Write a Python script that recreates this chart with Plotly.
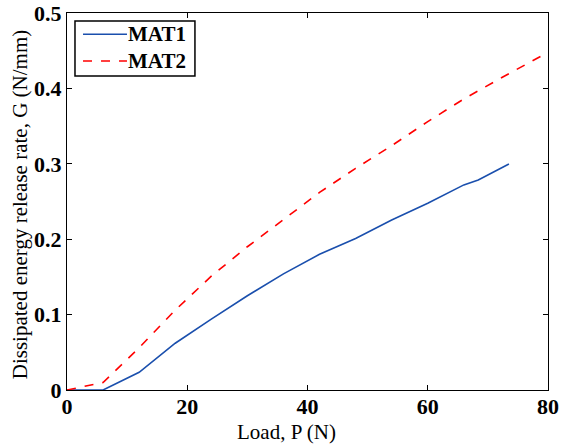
import plotly.graph_objects as go

load_mat1 = [0, 6, 12, 18, 24, 30, 36, 42, 48, 54, 60, 66, 68.4, 73.5]
g_mat1 = [0, 0, 0.0235, 0.062, 0.094, 0.125, 0.154, 0.180, 0.201, 0.2255, 0.2476, 0.272, 0.2785, 0.2997]

load_mat2 = [0, 6, 12, 18, 24, 30, 36, 42, 48, 54, 60, 66, 72, 79.5]
g_mat2 = [0, 0.01, 0.056, 0.106, 0.151, 0.190, 0.226, 0.262, 0.294, 0.324, 0.356, 0.386, 0.413, 0.4456]

series_names = ["MAT1", "MAT2"]
series_colors = ["#1a4fad", "#ff0000"]
series_dash = ["solid", "dash"]

x_ticks = [0, 20, 40, 60, 80]
y_ticks = [0, 0.1, 0.2, 0.3, 0.4, 0.5]
y_tick_labels = ["0", "0.1", "0.2", "0.3", "0.4", "0.5"]

x_title = "Load, P (N)"
y_title = "Dissipated energy release rate, G (N/mm)"

font = "Liberation Serif"
tickfont = dict(family=font, size=22, color="black", weight="bold")

fig = go.Figure()
for xs, ys, name, col, dash in zip([load_mat1, load_mat2], [g_mat1, g_mat2],
                                   series_names, series_colors, series_dash):
    fig.add_trace(go.Scatter(x=xs, y=ys, mode="lines", name=name, showlegend=False,
                             line=dict(color=col, width=1.6, dash=dash)))

axis_common = dict(showgrid=False, zeroline=False, showline=True, linecolor="black",
                   linewidth=1, mirror="ticks", ticks="inside", ticklen=5, automargin=False,
                   tickcolor="black", tickfont=tickfont)

# custom legend box (paper coordinates)
fig.add_shape(type="rect", xref="paper", yref="paper", x0=0.0166, x1=0.266, y0=0.833, y1=0.979,
              line=dict(color="black", width=1.5), fillcolor="white", layer="above")
legend_y = [0.9435, 0.8727]
for name, col, dash, ly in zip(series_names, series_colors, series_dash, legend_y):
    fig.add_shape(type="line", xref="paper", yref="paper", x0=0.0333, x1=0.1247, y0=ly, y1=ly,
                  line=dict(color=col, width=1.6, dash=dash), layer="above")
    fig.add_annotation(xref="paper", yref="paper", x=0.1268, y=ly, text=name, showarrow=False,
                       xanchor="left", yanchor="middle", xshift=-2,
                       font=dict(family=font, size=21, color="black", weight="bold"))

# axis titles
fig.add_annotation(xref="paper", yref="paper", x=0.457, y=-0.111, text=x_title, showarrow=False,
                   xanchor="center", yanchor="middle", font=dict(family=font, size=21, color="black"))
fig.add_annotation(xref="paper", yref="paper", x=-0.0977, y=0.49, text=y_title, showarrow=False,
                   textangle=-90, xanchor="center", yanchor="middle",
                   font=dict(family=font, size=21, color="black"))

fig.update_layout(
    width=564, height=447,
    margin=dict(l=67, r=16, t=13, b=57, autoexpand=False),
    paper_bgcolor="white", plot_bgcolor="white",
    font=dict(family=font, color="black", size=20),
    xaxis=dict(range=[0, 80], tickvals=x_ticks, ticklabelstandoff=-3, **axis_common),
    yaxis=dict(range=[0, 0.5], tickvals=y_ticks, ticktext=y_tick_labels, **axis_common),
    showlegend=False,
)

fig.write_html("out.html")
